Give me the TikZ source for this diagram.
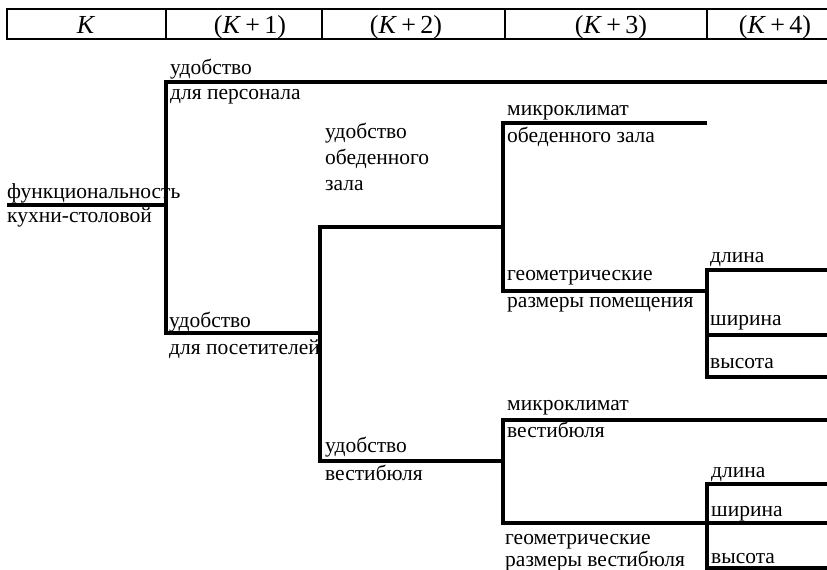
\documentclass[tikz,border=0pt]{standalone}
\usepackage{fontspec}
\setmainfont{Liberation Serif}
\usetikzlibrary{calc}
\tikzset{br/.style={line width=3.5pt}}
\tikzset{l/.style={font=\fontsize{21.5}{26}\selectfont, inner sep=0pt, anchor=base west}}
\tikzset{h/.style={font=\fontsize{26}{26}\selectfont, inner sep=0pt, anchor=base}}

\begin{document}
\begin{tikzpicture}[x=1pt,y=-1pt]
        \useasboundingbox (0,0) rectangle (827,570);
        % header row
        \draw[line width=1.8pt] (7,9) rectangle (850,39);
        \foreach \x in {166,322,505,707}
          \draw[line width=1.8pt] (\x,9) -- (\x,39);
        \node[h] (k0) at (86,33) {\textit{K}};
        \node[h] (k1) at (250,33) {(\textit{K}\,+\,1)};
        \node[h] (k2) at (406,33) {(\textit{K}\,+\,2)};
        \node[h] (k3) at (611,33) {(\textit{K}\,+\,3)};
        \node[h] (k4) at (775,33) {(\textit{K}\,+\,4)};
        % branch points
        \coordinate (r0) at (7,205);
        \coordinate (r1) at (166,205);
        \coordinate (a1) at (166,82);
        \coordinate (a1e) at (830,82);
        \coordinate (a2) at (166,333);
        \coordinate (b0) at (320,333);
        \coordinate (b1) at (320,227);
        \coordinate (b1e) at (503,227);
        \coordinate (b2) at (320,461);
        \coordinate (b2e) at (503,461);
        \coordinate (c1) at (503,123);
        \coordinate (c1e) at (707,123);
        \coordinate (c2) at (503,291);
        \coordinate (d0) at (707,291);
        \coordinate (d1) at (707,270);
        \coordinate (d1e) at (830,270);
        \coordinate (d2) at (707,335);
        \coordinate (d2e) at (830,335);
        \coordinate (d3) at (707,377);
        \coordinate (d3e) at (830,377);
        \coordinate (e1) at (503,420);
        \coordinate (e1e) at (830,420);
        \coordinate (e2) at (503,523);
        \coordinate (f1) at (707,484);
        \coordinate (f1e) at (830,484);
        \coordinate (f2e) at (830,523);
        \coordinate (f3) at (707,568);
        \coordinate (f3e) at (830,568);
        % tree
        \draw[br] (r0) -- (r1);
        \draw[br] (a1e) -- (a1) -- (a2) -- (b0);
        \draw[br] (b1e) -- (b1) -- (b2) -- (b2e);
        \draw[br] (c1e) -- (c1) -- (c2) -- (d0);
        \draw[br] (d1e) -- (d1) -- (d3) -- (d3e);
        \draw[br] (d2) -- (d2e);
        \draw[br] (e1e) -- (e1) -- (e2) -- (f2e);
        \draw[br] (f1e) -- (f1) -- (f3) -- (f3e);
        % labels
        \node[l] (rt) at (7,198) {функциональность};
        \node[l] (rb) at (7,222) {кухни-столовой};
        \node[l] (pt) at (170,74) {удобство};
        \node[l] (pb) at (170,99) {для персонала};
        \node[l] (vt) at (169,327) {удобство};
        \node[l] (vb) at (169,354) {для посетителей};
        \node[l, anchor=north west, align=left] (oz) at (325,123) {удобство\\обеденного\\зала};
        \node[l] (mot) at (507,115) {микроклимат};
        \node[l] (mob) at (507,142) {обеденного зала};
        \node[l] (gpt) at (507,280) {геометрические};
        \node[l] (gpb) at (507,307) {размеры помещения};
        \node[l] (dl1) at (710,262) {длина};
        \node[l] (sh1) at (710,325) {ширина};
        \node[l] (vy1) at (710,368) {высота};
        \node[l] (ut) at (325,452) {удобство};
        \node[l] (ub) at (325,480) {вестибюля};
        \node[l] (mvt) at (507,410) {микроклимат};
        \node[l] (mvb) at (507,437) {вестибюля};
        \node[l] (dl2) at (711,477) {длина};
        \node[l] (sh2) at (711,516) {ширина};
        \node[l] (vy2) at (711,563) {высота};
        \node[l] (gvt) at (505,544) {геометрические};
        \node[l] (gvb) at (505,566) {размеры вестибюля};
\end{tikzpicture}
\end{document}
